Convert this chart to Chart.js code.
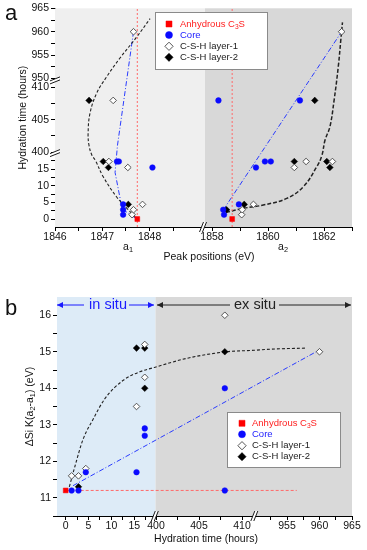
<!DOCTYPE html>
<html>
<head>
<meta charset="utf-8">
<script src="https://cdn.jsdelivr.net/npm/chart.js@4.4.0/dist/chart.umd.min.js"></script>
<style>
  html, body { margin: 0; padding: 0; background: #fff; }
  #wrap { position: relative; width: 367px; height: 550px; }
  canvas { position: absolute; left: 0; }
</style>
</head>
<body>
<div id="wrap">
  <canvas id="chartA" width="367" height="275" style="top:0"></canvas>
  <canvas id="chartB" width="367" height="275" style="top:275px"></canvas>
</div>
<script>
const FONT = '"Liberation Sans", Arial, Helvetica, sans-serif';

// ---------- panel a : peak positions (eV) vs hydration time (hours) ----------
const anhydrousPeak = [1847.74, 1858.72];
const anhydrousTime = [0, 0];
const corePeak = [1847.44, 1847.44, 1847.44, 1847.31, 1847.35, 1848.06,
                  1858.43, 1858.40, 1858.96, 1859.57, 1859.89, 1860.10, 1858.23, 1861.14];
const coreTime = [1.3, 2.8, 4.4, 17.3, 17.3, 15.5,
                  1.3, 2.8, 4.4, 15.5, 17.3, 17.3, 408, 408];
const layer1Peak = [1847.63, 1847.66, 1847.85, 1847.54, 1847.14, 1847.23, 1847.66,
                    1859.06, 1859.08, 1859.48, 1860.94, 1861.36, 1862.30, 1862.63];
const layer1Time = [1.3, 2.8, 4.4, 15.5, 17.3, 408, 960,
                    1.3, 2.8, 4.4, 15.5, 17.3, 17.3, 960];
const layer2Peak = [1847.55, 1847.13, 1847.02, 1846.72,
                    1858.52, 1859.15, 1862.21, 1860.94, 1862.10, 1861.67];
const layer2Time = [4.4, 15.5, 17.3, 408,
                    2.8, 4.4, 15.5, 17.3, 17.3, 408];

// guide curves
const fitA1Peak = [1847.69, 1847.52, 1847.30, 1847.02, 1846.85, 1846.78, 1846.72, 1846.70,
                   1846.74, 1846.88, 1847.09, 1847.37, 1847.73, 1848.01];
const fitA1Time = [0.7, 3.2, 6.7, 12.7, 17.7, 19.2, 401, 402.9, 406.0, 409.1, 950.3, 954.3, 958.9, 962.8];
const fitA2Peak = [1858.50, 1859.12, 1859.83, 1860.67, 1861.26, 1861.74, 1861.92, 1862.04,
                   1862.21, 1862.36, 1862.51, 1862.60, 1862.66];
const fitA2Time = [2.0, 3.2, 4.2, 6.2, 9.7, 15.7, 19.0, 401.9, 403.9, 408.0, 952.5, 958.2, 962];
const coreFitA1Peak = [1847.66, 1847.32, 1847.27, 1847.42, 1847.70];
const coreFitA1Time = [960, 401, 14, 3, 0.3];
const coreFitA2Peak = [1858.40, 1862.63];
const coreFitA2Time = [2.7, 960];
const refLineTime = [-2.4, 965];

const peakTicks = [1846, 1847, 1848, 1858, 1860, 1862];
const peakMinor = [1846.5, 1847.5, 1848.5, 1859, 1861, 1863];
const timeTicksA = [0, 5, 10, 15, 400, 405, 410, 950, 955, 960, 965];
const timeMinorA = [2.5, 7.5, 12.5, 17.5, 402.5, 407.5, 952.5, 957.5, 962.5];

// ---------- panel b : ΔSi K(a2-a1) vs hydration time ----------
const anhydrousHours = [0];
const anhydrousShift = [11.2];
const coreHours = [1.3, 2.8, 4.4, 15.5, 17.3, 17.3, 408, 408];
const coreShift = [11.2, 11.2, 11.7, 11.7, 12.9, 12.7, 14.0, 11.2];
const layer1Hours = [1.3, 2.8, 4.4, 15.5, 17.3, 17.3, 408, 960];
const layer1Shift = [11.6, 11.6, 11.8, 13.5, 15.2, 14.3, 16.0, 15.0];
const layer2Hours = [2.8, 15.5, 17.3, 17.3, 408];
const layer2Shift = [11.3, 15.1, 15.1, 14.0, 15.0];

const fitBHours = [0.8, 2.0, 3.8, 6.0, 8.5, 12.6, 16.2, 19.4, 403.6, 408.2, 411.4, 952.4, 958];
const fitBShift = [11.3, 11.85, 12.6, 13.15, 13.7, 14.22, 14.45, 14.57, 14.82, 15.0, 15.04, 15.07, 15.1];
const coreFitBHours = [1.6, 960];
const coreFitBShift = [11.33, 15.05];
const refLineHours = [0, 956.5];
const refLineShift = [11.2, 11.2];

const hourTicksB = [0, 5, 10, 15, 400, 405, 410, 955, 960, 965];
const hourMinorB = [2.5, 7.5, 12.5, 17.5, 402.5, 407.5, 952.5, 957.5, 962.5];
const shiftTicks = [11, 12, 13, 14, 15, 16];
const shiftMinor = [10.5, 11.5, 12.5, 13.5, 14.5, 15.5];

// ---------- broken axis mapping ----------
function segMap(segs) {
  return v => {
    for (const s of segs) {
      if (v >= s.from - 1e-9 && v <= s.to + 1e-9) return s.v0 + (v - s.from) * s.k;
    }
    return NaN;
  };
}
const peakX = segMap([
  { from: 1846, to: 1849.1, v0: 0, k: 47.3 },
  { from: 1857.75, to: 1863.1, v0: 150, k: 28 }
]);
const timeY = segMap([
  { from: -2.4, to: 19.2, v0: 0, k: 3.33 },
  { from: 400, to: 411.1, v0: 75, k: 6.47 },
  { from: 949.6, to: 965, v0: 147, k: 4.67 }
]);
const hourX = segMap([
  { from: -1.9, to: 19.5, v0: 0, k: 4.57 },
  { from: 400, to: 411.5, v0: 99, k: 8.6 },
  { from: 950, to: 965, v0: 197.5, k: 6.5 }
]);
const same = v => v;

const pts = (xs, ys, fx, fy) => xs.map((x, i) => ({ x: fx(x), y: fy(ys[i]) }));

function brokenAxis(min, max, major, minor, map, size, isX) {
  const all = major.map(v => ({ v: map(v), label: String(v) }))
    .concat(minor.map(v => ({ v: map(v), label: '' })));
  return {
    type: 'linear', min, max,
    afterBuildTicks: s => { s.ticks = all.map(t => ({ value: t.v })); },
    afterFit: s => { if (isX) s.height = size; else s.width = size; },
    ticks: {
      autoSkip: false, maxRotation: 0, padding: isX ? 0 : 2, color: '#111',
      font: { family: FONT, size: 10.5 },
      callback: (val, i) => (all[i] ? all[i].label : '')
    },
    grid: { drawOnChartArea: false, drawTicks: true, tickLength: 4, color: '#000' },
    border: { display: true, color: '#000', width: 1 }
  };
}

// ---------- markers ----------
const RED = '#ff0000', BLUE = '#0a0aff';
const markers = {
  anhydrous: { pointStyle: 'rect', pointRadius: 3.4, backgroundColor: RED, borderColor: RED, borderWidth: 0.5 },
  core: { pointStyle: 'circle', pointRadius: 2.8, backgroundColor: BLUE, borderColor: BLUE, borderWidth: 0.5 },
  layer1: { pointStyle: 'rectRot', pointRadius: 3.3, backgroundColor: '#fff', borderColor: '#444', borderWidth: 0.9 },
  layer2: { pointStyle: 'rectRot', pointRadius: 3.3, backgroundColor: '#000', borderColor: '#000', borderWidth: 0.5 }
};
function pointSet(data, m) {
  return Object.assign({ data, showLine: false, order: 0, pointHoverRadius: 0 }, m);
}
function lineSet(data, color, dash, width, tension) {
  return {
    data, showLine: true, order: 5, pointRadius: 0, borderColor: color,
    borderWidth: width, borderDash: dash, tension, fill: false
  };
}

// ---------- drawing helpers ----------
function richText(ctx, parts, x, y, size, color, align, angle) {
  ctx.save();
  ctx.translate(x, y);
  if (angle) ctx.rotate(angle);
  ctx.textBaseline = 'middle';
  ctx.textAlign = 'left';
  let w = 0;
  parts.forEach(p => {
    ctx.font = (p.sub ? size * 0.7 : size) + 'px ' + FONT;
    w += ctx.measureText(p.t).width;
  });
  let cx = align === 'center' ? -w / 2 : 0;
  parts.forEach(p => {
    ctx.font = (p.sub ? size * 0.7 : size) + 'px ' + FONT;
    ctx.fillStyle = p.color || color;
    ctx.fillText(p.t, cx, p.sub ? size * 0.32 : 0);
    cx += ctx.measureText(p.t).width;
  });
  ctx.restore();
}

function drawBreakX(ctx, x, y) {
  ctx.save();
  ctx.fillStyle = '#fff';
  ctx.beginPath();
  ctx.moveTo(x - 4, y + 5); ctx.lineTo(x, y - 5); ctx.lineTo(x + 3, y - 5); ctx.lineTo(x - 1, y + 5);
  ctx.closePath(); ctx.fill();
  ctx.strokeStyle = '#000'; ctx.lineWidth = 0.9;
  ctx.beginPath();
  ctx.moveTo(x - 4, y + 5); ctx.lineTo(x, y - 5);
  ctx.moveTo(x - 1, y + 5); ctx.lineTo(x + 3, y - 5);
  ctx.stroke();
  ctx.restore();
}
function drawBreakY(ctx, x, y) {
  ctx.save();
  ctx.fillStyle = '#fff';
  ctx.beginPath();
  ctx.moveTo(x - 5, y + 3); ctx.lineTo(x + 5, y - 1); ctx.lineTo(x + 5, y - 4); ctx.lineTo(x - 5, y);
  ctx.closePath(); ctx.fill();
  ctx.strokeStyle = '#000'; ctx.lineWidth = 0.9;
  ctx.beginPath();
  ctx.moveTo(x - 5, y + 3); ctx.lineTo(x + 5, y - 1);
  ctx.moveTo(x - 5, y); ctx.lineTo(x + 5, y - 4);
  ctx.stroke();
  ctx.restore();
}

function drawLegend(ctx, box, mx, tx, rows) {
  ctx.save();
  ctx.fillStyle = '#fff';
  ctx.fillRect(box[0], box[1], box[2], box[3]);
  ctx.strokeStyle = '#8a8a8a'; ctx.lineWidth = 1;
  ctx.strokeRect(box[0] + 0.5, box[1] + 0.5, box[2], box[3]);
  const items = [
    { m: markers.anhydrous, parts: [{ t: 'Anhydrous C' }, { t: '3', sub: true }, { t: 'S' }], color: '#ff2020' },
    { m: markers.core, parts: [{ t: 'Core' }], color: '#1a1aff' },
    { m: markers.layer1, parts: [{ t: 'C-S-H layer-1' }], color: '#222' },
    { m: markers.layer2, parts: [{ t: 'C-S-H layer-2' }], color: '#222' }
  ];
  items.forEach((it, i) => {
    ctx.fillStyle = it.m.backgroundColor;
    ctx.strokeStyle = it.m.borderColor;
    ctx.lineWidth = it.m.borderWidth;
    Chart.helpers.drawPoint(ctx, {
      pointStyle: it.m.pointStyle, rotation: 0,
      radius: it.m.pointRadius * 1.25, borderWidth: it.m.borderWidth
    }, mx, rows[i]);
    richText(ctx, it.parts, tx, rows[i], 9.5, it.color, 'left');
  });
  ctx.restore();
}

function drawArrow(ctx, x1, x2, y, color, headL, headR) {
  ctx.save();
  ctx.strokeStyle = color; ctx.fillStyle = color; ctx.lineWidth = 1;
  ctx.beginPath(); ctx.moveTo(x1, y); ctx.lineTo(x2, y); ctx.stroke();
  const head = (x, dir) => {
    ctx.beginPath(); ctx.moveTo(x, y); ctx.lineTo(x - dir * 6, y - 3); ctx.lineTo(x - dir * 6, y + 3);
    ctx.closePath(); ctx.fill();
  };
  if (headL) head(x1, -1);
  if (headR) head(x2, 1);
  ctx.restore();
}

// ---------- panel a ----------
const panelA = {
  id: 'panelA',
  beforeDatasetsDraw(chart) {
    const { ctx, chartArea: a, scales } = chart;
    const split = scales.x.getPixelForValue(150);
    ctx.save();
    ctx.fillStyle = '#efefef';
    ctx.fillRect(a.left, a.top, split - a.left, a.bottom - a.top);
    ctx.fillStyle = '#d8d8d8';
    ctx.fillRect(split, a.top, a.right - split, a.bottom - a.top);
    ctx.restore();
  },
  afterDraw(chart) {
    const { ctx, chartArea: a, scales } = chart;
    drawBreakX(ctx, scales.x.getPixelForValue(148.5), a.bottom);
    drawBreakY(ctx, a.left, scales.y.getPixelForValue(73.5));
    drawBreakY(ctx, a.left, scales.y.getPixelForValue(146.3));
    ctx.save();
    ctx.fillStyle = '#111';
    ctx.font = '22px ' + FONT;
    ctx.textBaseline = 'alphabetic';
    ctx.fillText('a', 5, 20);
    ctx.restore();
    richText(ctx, [{ t: 'Hydration time (hours)' }], 23, (a.top + a.bottom) / 2, 10.5, '#111', 'center', -Math.PI / 2);
    richText(ctx, [{ t: 'Peak positions (eV)' }], 209, 257, 10.5, '#111', 'center');
    richText(ctx, [{ t: 'a' }, { t: '1', sub: true }], 128, 247, 10.5, '#111', 'center');
    richText(ctx, [{ t: 'a' }, { t: '2', sub: true }], 283, 247, 10.5, '#111', 'center');
    drawLegend(ctx, [155, 12, 112, 57], 169, 180, [24, 35, 46.3, 57.3]);
  }
};

new Chart(document.getElementById('chartA'), {
  type: 'scatter',
  data: {
    datasets: [
      pointSet(pts(anhydrousPeak, anhydrousTime, peakX, timeY), markers.anhydrous),
      pointSet(pts(corePeak, coreTime, peakX, timeY), markers.core),
      pointSet(pts(layer1Peak, layer1Time, peakX, timeY), markers.layer1),
      pointSet(pts(layer2Peak, layer2Time, peakX, timeY), markers.layer2),
      lineSet(pts([anhydrousPeak[0], anhydrousPeak[0]], refLineTime, peakX, timeY), '#ff6a6a', [2, 2], 1, 0),
      lineSet(pts([anhydrousPeak[1], anhydrousPeak[1]], refLineTime, peakX, timeY), '#ff6a6a', [2, 2], 1, 0),
      lineSet(pts(fitA1Peak, fitA1Time, peakX, timeY), '#222', [3, 2], 1.1, 0.4),
      lineSet(pts(fitA2Peak, fitA2Time, peakX, timeY), '#222', [4, 2], 1.5, 0.4),
      lineSet(pts(coreFitA1Peak, coreFitA1Time, peakX, timeY), '#2a3cff', [5, 2, 1, 2], 1, 0),
      lineSet(pts(coreFitA2Peak, coreFitA2Time, peakX, timeY), '#2a3cff', [5, 2, 1, 2], 1, 0)
    ]
  },
  options: {
    responsive: false, animation: false,
    layout: { padding: { left: 0, right: 15, top: 8, bottom: 0 } },
    plugins: { legend: { display: false }, tooltip: { enabled: false } },
    scales: {
      x: brokenAxis(0, 297, peakTicks, peakMinor, peakX, 48, true),
      y: brokenAxis(0, 219, timeTicksA, timeMinorA, timeY, 55, false)
    }
  },
  plugins: [panelA]
});

// ---------- panel b ----------
const panelB = {
  id: 'panelB',
  beforeDatasetsDraw(chart) {
    const { ctx, chartArea: a, scales } = chart;
    const split = scales.x.getPixelForValue(98.5);
    ctx.save();
    ctx.fillStyle = '#ddebf7';
    ctx.fillRect(a.left, a.top, split - a.left, a.bottom - a.top);
    ctx.fillStyle = '#d9d9d9';
    ctx.fillRect(split, a.top, a.right - split, a.bottom - a.top);
    ctx.restore();
  },
  afterDraw(chart) {
    const { ctx, chartArea: a, scales } = chart;
    drawBreakX(ctx, scales.x.getPixelForValue(98.3), a.bottom);
    drawBreakX(ctx, scales.x.getPixelForValue(197.8), a.bottom);
    ctx.save();
    ctx.fillStyle = '#111';
    ctx.font = '22px ' + FONT;
    ctx.fillText('b', 5, 40);
    ctx.restore();
    richText(ctx, [{ t: 'ΔSi K(a' }, { t: '2', sub: true }, { t: '-a' }, { t: '1', sub: true }, { t: ') (eV)' }],
      30, (a.top + a.bottom) / 2, 10.5, '#111', 'center', -Math.PI / 2);
    richText(ctx, [{ t: 'Hydration time (hours)' }], 206, 264, 10.5, '#111', 'center');
    // in situ / ex situ bands
    const ya = 30;
    drawArrow(ctx, 57, 84, ya, '#1a1aff', true, false);
    drawArrow(ctx, 129, 154, ya, '#1a1aff', false, true);
    richText(ctx, [{ t: 'in situ' }], 108, ya, 14.5, '#1a1aff', 'center');
    drawArrow(ctx, 157, 230, ya, '#222', true, false);
    drawArrow(ctx, 279, 351, ya, '#222', false, true);
    richText(ctx, [{ t: 'ex situ' }], 255, ya, 14.5, '#222', 'center');
    drawLegend(ctx, [227, 137, 113, 55], 242, 252, [148.3, 159.3, 170.7, 181.7]);
  }
};

new Chart(document.getElementById('chartB'), {
  type: 'scatter',
  data: {
    datasets: [
      pointSet(pts(anhydrousHours, anhydrousShift, hourX, same), markers.anhydrous),
      pointSet(pts(coreHours, coreShift, hourX, same), markers.core),
      pointSet(pts(layer1Hours, layer1Shift, hourX, same), markers.layer1),
      pointSet(pts(layer2Hours, layer2Shift, hourX, same), markers.layer2),
      lineSet(pts(refLineHours, refLineShift, hourX, same), '#ff6a6a', [3, 2], 1, 0),
      Object.assign(lineSet(pts(fitBHours, fitBShift, hourX, same), '#222', [3, 2], 1.1, 0.4),
        { cubicInterpolationMode: 'monotone' }),
      lineSet(pts(coreFitBHours, coreFitBShift, hourX, same), '#2a3cff', [5, 2, 1, 2], 1, 0)
    ]
  },
  options: {
    responsive: false, animation: false,
    layout: { padding: { left: 0, right: 15, top: 22, bottom: 0 } },
    plugins: { legend: { display: false }, tooltip: { enabled: false } },
    scales: {
      x: brokenAxis(0, 295, hourTicksB, hourMinorB, hourX, 34, true),
      y: brokenAxis(10.5, 16.5, shiftTicks, shiftMinor, same, 57, false)
    }
  },
  plugins: [panelB]
});
</script>
</body>
</html>
